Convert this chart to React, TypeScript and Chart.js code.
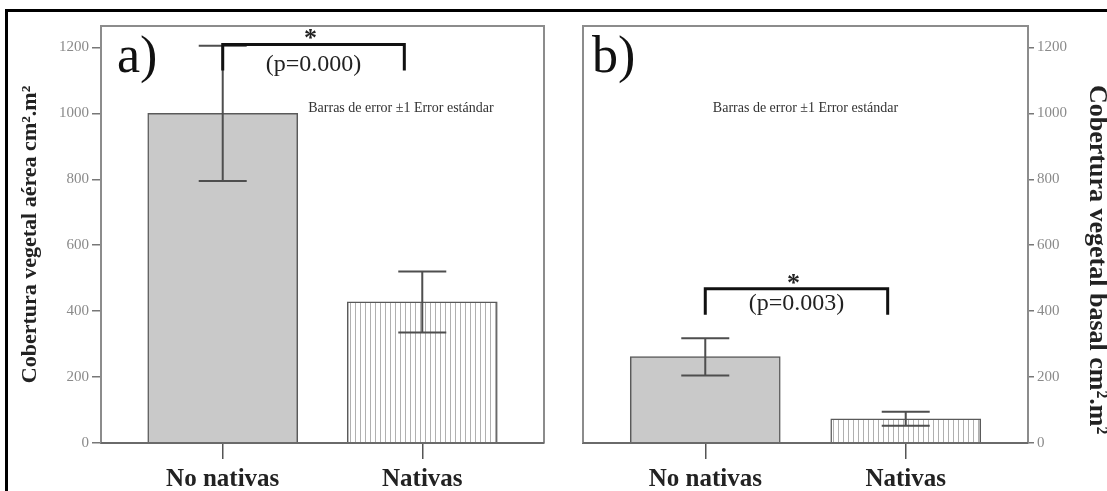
import React, { useEffect, useRef } from 'react';
import { Chart, registerables } from 'chart.js';

Chart.register(...registerables);

// ---- data ----
const categories = ['No nativas', 'Nativas'];
const aereaMean = [1000, 428];
const aereaErrLow = [795, 335];
const aereaErrHigh = [1205, 520];
const basalMean = [262, 73];
const basalErrLow = [205, 52];
const basalErrHigh = [318, 95];
const yTicks = [0, 200, 400, 600, 800, 1000, 1200];
const yMax = 1265;
const panelLetters = ['a)', 'b)'];
const errorNote = 'Barras de error \u00b11 Error est\u00e1ndar';
const pValues = ['(p=0.000)', '(p=0.003)'];
const bracketValues = [1209, 468];
const yTitles = ['Cobertura vegetal a\u00e9rea cm\u00b2.m\u00b2', 'Cobertura vegetal basal cm\u00b2.m\u00b2'];

const SERIF = '"Liberation Serif", "Times New Roman", serif';

const annotatePlugin = {
  id: 'annotate',
  afterDatasetsDraw(chart: any, _args: any, opts: any) {
    const { ctx, chartArea: a } = chart;
    const xs = chart.scales.x;
    const ys = chart.scales.y;
    ctx.save();
    // frame
    ctx.strokeStyle = '#8c8c8c';
    ctx.lineWidth = 2;
    ctx.beginPath();
    ctx.moveTo(a.left, a.bottom);
    ctx.lineTo(a.left, a.top);
    ctx.lineTo(a.right, a.top);
    ctx.lineTo(a.right, a.bottom);
    ctx.stroke();
    ctx.strokeStyle = '#6a6a6a';
    ctx.beginPath();
    ctx.moveTo(a.left, a.bottom);
    ctx.lineTo(a.right, a.bottom);
    ctx.stroke();

    // error bars
    ctx.strokeStyle = '#4e4e4e';
    ctx.lineWidth = 2;
    const cap = 24;
    opts.low.forEach((lo: number, i: number) => {
      const px = xs.getPixelForValue(i);
      const yl = ys.getPixelForValue(lo);
      const yh = ys.getPixelForValue(opts.high[i]);
      ctx.beginPath();
      ctx.moveTo(px, yl);
      ctx.lineTo(px, yh);
      ctx.moveTo(px - cap, yl);
      ctx.lineTo(px + cap, yl);
      ctx.moveTo(px - cap, yh);
      ctx.lineTo(px + cap, yh);
      ctx.stroke();
    });

    // significance bracket
    const bx0 = xs.getPixelForValue(0);
    const bx1 = xs.getPixelForValue(0.91);
    const by = ys.getPixelForValue(opts.bracket);
    ctx.strokeStyle = '#111';
    ctx.lineWidth = 3;
    ctx.beginPath();
    ctx.moveTo(bx0, by + 26);
    ctx.lineTo(bx0, by);
    ctx.lineTo(bx1, by);
    ctx.lineTo(bx1, by + 26);
    ctx.stroke();
    const mid = (bx0 + bx1) / 2;
    ctx.fillStyle = '#222';
    ctx.textAlign = 'center';
    ctx.textBaseline = 'alphabetic';
    ctx.font = `bold 26px ${SERIF}`;
    ctx.fillText('*', mid - 3, by + 2);
    ctx.textBaseline = 'middle';
    ctx.font = `24px ${SERIF}`;
    ctx.fillText(opts.pText, mid, by + opts.pDy);

    // panel letter
    ctx.textAlign = 'left';
    ctx.textBaseline = 'alphabetic';
    ctx.font = `52px ${SERIF}`;
    ctx.fillStyle = '#111';
    ctx.fillText(opts.letter, a.left + opts.letterDx, 72);

    // error note
    ctx.font = `14px ${SERIF}`;
    ctx.fillStyle = '#333';
    ctx.textAlign = 'center';
    ctx.textBaseline = 'middle';
    ctx.fillText(errorNote, a.left + a.width * opts.noteFrac, 108);

    // right-hand axis title (reads top to bottom)
    if (opts.sideTitle) {
      ctx.translate(chart.width - 10, 85);
      ctx.rotate(Math.PI / 2);
      ctx.font = `bold 26px ${SERIF}`;
      ctx.fillStyle = '#222';
      ctx.textAlign = 'left';
      ctx.textBaseline = 'middle';
      ctx.fillText(opts.sideTitle, 0, 0);
    }
    ctx.restore();
  },
};

function Panel(props: { idx: number }) {
  const ref = useRef<HTMLCanvasElement | null>(null);
  const { idx } = props;
  const isLeft = idx === 0;
  const means = isLeft ? aereaMean : basalMean;
  const low = isLeft ? aereaErrLow : basalErrLow;
  const high = isLeft ? aereaErrHigh : basalErrHigh;
  const width = isLeft ? 553 : 554;

  useEffect(() => {
    const canvas = ref.current!;
    const ctx = canvas.getContext('2d')!;
    const pc = document.createElement('canvas');
    pc.width = 5;
    pc.height = 10;
    const pg = pc.getContext('2d')!;
    pg.fillStyle = '#ffffff';
    pg.fillRect(0, 0, 5, 10);
    pg.fillStyle = '#b0b0b0';
    pg.fillRect(0, 0, 1, 10);
    const pattern = ctx.createPattern(pc, 'repeat');

    const chart = new Chart(canvas, {
      type: 'bar',
      data: {
        datasets: [
          {
            data: means.map((v, i) => ({ x: i, y: v })),
            backgroundColor: ['#c9c9c9', pattern as any],
            borderColor: '#5a5a5a',
            borderWidth: 1.5,
            barThickness: 150,
          },
        ],
      },
      options: {
        responsive: false,
        animation: false,
        devicePixelRatio: 1,
        layout: {
          padding: isLeft
            ? { left: 0, top: 26, right: 9, bottom: 0 }
            : { left: 30, top: 26, right: 0, bottom: 0 },
        },
        plugins: {
          legend: { display: false },
          tooltip: { enabled: false },
          annotate: {
            low,
            high,
            bracket: bracketValues[idx],
            pText: pValues[idx],
            pDy: isLeft ? 20 : 15,
            letter: panelLetters[idx],
            letterDx: isLeft ? 16 : 9,
            noteFrac: isLeft ? 0.677 : 0.5,
            sideTitle: isLeft ? null : yTitles[idx],
          },
        } as any,
        scales: {
          x: {
            type: 'linear',
            offset: false,
            min: -0.61,
            max: 1.61,
            afterBuildTicks: (axis: any) => {
              axis.ticks = categories.map((_, i) => ({ value: i }));
            },
            afterFit: (axis: any) => {
              axis.height = 48;
            },
            ticks: {
              autoSkip: false,
              maxRotation: 0,
              padding: 6,
              color: '#222',
              font: { family: SERIF, size: 25, weight: 'bold' },
              callback: (v: any) => categories[Math.round(Number(v))],
            },
            grid: {
              offset: false,
              drawOnChartArea: false,
              drawTicks: true,
              tickLength: 16,
              color: '#555',
              lineWidth: 1.5,
            },
            border: { display: true, color: '#6a6a6a', width: 2 },
          },
          y: {
            position: isLeft ? 'left' : 'right',
            min: 0,
            max: yMax,
            afterBuildTicks: (axis: any) => {
              axis.ticks = yTicks.map((v) => ({ value: v }));
            },
            afterFit: (axis: any) => {
              axis.width = isLeft ? 101 : 79;
            },
            ticks: {
              padding: 3,
              color: '#8a8a8a',
              font: { family: SERIF, size: 15 },
              callback: (v: any) => String(v),
            },
            grid: {
              drawOnChartArea: false,
              drawTicks: true,
              tickLength: isLeft ? 9 : 6,
              color: '#777',
              lineWidth: 1.5,
            },
            border: { display: true, color: '#8c8c8c', width: 2 },
            title: {
              display: isLeft,
              text: yTitles[idx],
              color: '#222',
              font: { family: SERIF, size: 22, weight: 'bold', lineHeight: 1 },
              padding: { top: 19, bottom: 0 },
            },
          },
        },
      },
      plugins: [annotatePlugin],
    } as any);
    return () => chart.destroy();
  }, []);

  return (
    <canvas
      ref={ref}
      width={width}
      height={491}
      style={{ position: 'absolute', left: isLeft ? 0 : 553, top: 0, width, height: 491 }}
    />
  );
}

export default function App() {
  useEffect(() => {
    document.body.style.overflow = 'hidden';
  }, []);
  return (
    <div
      style={{
        position: 'absolute',
        left: 0,
        top: 0,
        width: 1107,
        height: 491,
        overflow: 'hidden',
        background: '#fff',
      }}
    >
      <Panel idx={0} />
      <Panel idx={1} />
      <div
        style={{
          position: 'absolute',
          left: 5,
          top: 9,
          width: 1130,
          height: 520,
          border: '3px solid #000',
          boxSizing: 'border-box',
          pointerEvents: 'none',
        }}
      />
    </div>
  );
}
